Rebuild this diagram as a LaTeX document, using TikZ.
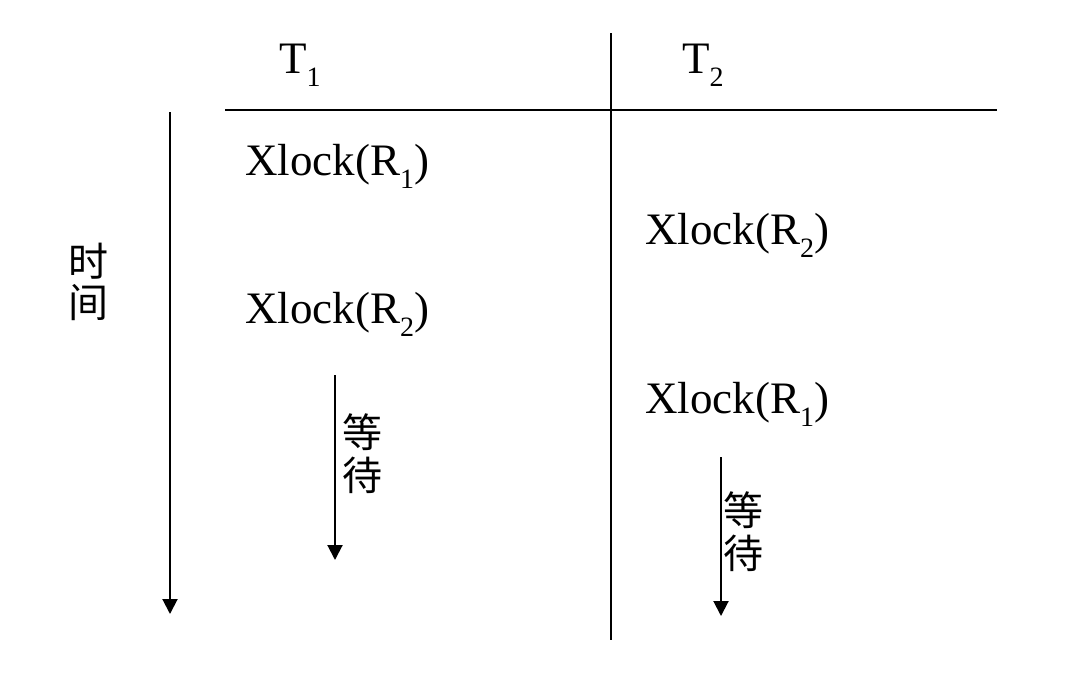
\documentclass[tikz,border=0pt]{standalone}
\usepackage{fontspec}
\setmainfont{Liberation Serif}
\newfontfamily\cjk{Noto Sans CJK SC}
\usetikzlibrary{arrows.meta}
\newcommand{\sbs}[1]{\raisebox{-0.3em}{\fontsize{28}{28}\selectfont #1}}
\tikzset{
  lbl/.style={inner sep=0pt, anchor=base west, font=\fontsize{45}{45}\selectfont},
  cjklbl/.style={inner sep=0pt, anchor=center, font=\fontsize{40}{40}\selectfont\cjk},
  rule/.style={line width=2pt},
  timearrow/.style={line width=2pt, -{Triangle[width=15pt,length=15pt]}}
}
\begin{document}
\begin{tikzpicture}[x=1pt,y=-1pt]
\useasboundingbox (0,0) rectangle (1075,672);
% header
\node[lbl] (t1) at (279,73) {T\sbs{1}};
\node[lbl] (t2) at (682,73) {T\sbs{2}};
% lines
\coordinate (vtop) at (611,33);
\coordinate (vbot) at (611,640);
\coordinate (hl) at (225,110);
\coordinate (hr) at (997,110);
\draw[rule] (vtop) -- (vbot);
\draw[rule] (hl) -- (hr);
% time axis
\coordinate (ttop) at (170,112);
\coordinate (tbot) at (170,614);
\draw[timearrow] (ttop) -- (tbot);
\node[cjklbl] (shi) at (88,261) {时};
\node[cjklbl] (jian) at (88,303) {间};
% operations
\node[lbl] (a1) at (245,175) {Xlock(R\sbs{1})};
\node[lbl] (b1) at (645,244) {Xlock(R\sbs{2})};
\node[lbl] (a2) at (245,323) {Xlock(R\sbs{2})};
\node[lbl] (b2) at (645,413) {Xlock(R\sbs{1})};
% waits
\coordinate (w1top) at (335,375);
\coordinate (w1bot) at (335,560);
\draw[timearrow] (w1top) -- (w1bot);
\node[cjklbl] (deng1) at (362,432) {等};
\node[cjklbl] (dai1) at (362,475) {待};
\coordinate (w2top) at (721,457);
\coordinate (w2bot) at (721,616);
\draw[timearrow] (w2top) -- (w2bot);
\node[cjklbl] (deng2) at (743,510) {等};
\node[cjklbl] (dai2) at (743,553) {待};
\end{tikzpicture}
\end{document}
